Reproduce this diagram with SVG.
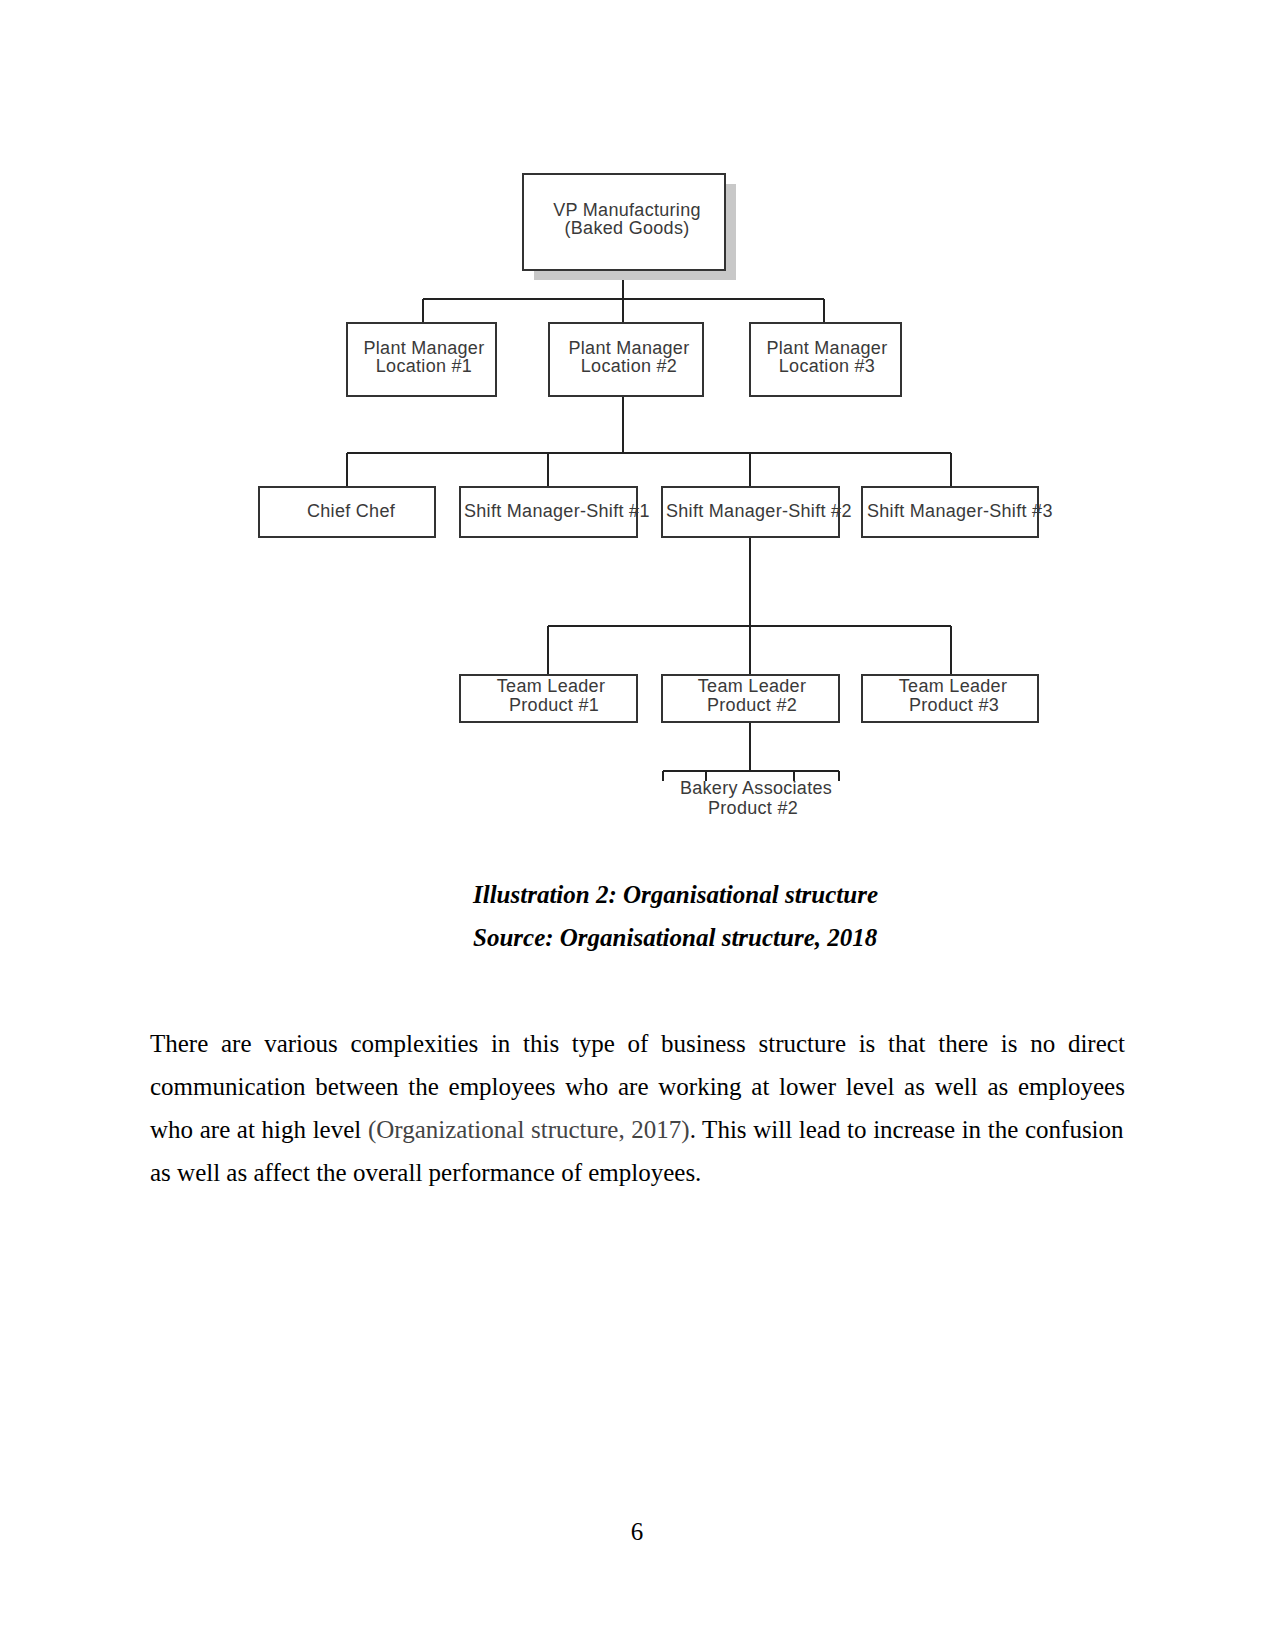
<svg xmlns="http://www.w3.org/2000/svg" width="1275" height="1651" viewBox="0 0 1275 1651">
<style>
.box{fill:#fff;stroke:#333;stroke-width:2}
.shadow{fill:#c8c8c8}
.t{font-family:"Liberation Sans",Arial,sans-serif;font-size:18px;letter-spacing:0.3px;fill:#3a3a3a;text-anchor:middle}
.tl{font-family:"Liberation Sans",Arial,sans-serif;font-size:18px;letter-spacing:0.3px;fill:#3a3a3a}
.conn{fill:none;stroke:#222;stroke-width:2}
.cap{font-family:"Liberation Serif","Times New Roman",serif;font-size:25px;font-weight:bold;font-style:italic;fill:#000}
.body{font-family:"Liberation Serif","Times New Roman",serif;font-size:25px;fill:#000}
</style>
<rect width="1275" height="1651" fill="#fff"/>
<g id="connectors">
<path class="conn" d="M623 270V299M423 299H824M423 299V323M824 299V323M623 299V323"/>
<path class="conn" d="M623 396V453M347 453H951M347 453V487M548 453V487M750 453V487M951 453V487"/>
<path class="conn" d="M750 537V626M548 626H951M548 626V675M750 626V675M951 626V675"/>
<path class="conn" d="M750 722V771M663 771H839M663 771V781M706 771V781M794 771V781M839 771V781"/>
</g>
<g id="vp">
<rect class="shadow" x="534" y="184" width="202" height="96"/>
<rect class="box" x="523" y="174" width="202" height="96"/>
<text class="t" x="627" y="216">VP Manufacturing</text>
<text class="t" x="627" y="234">(Baked Goods)</text>
</g>
<g id="pm1">
<rect class="box" x="347" y="323" width="149" height="73"/>
<text class="t" x="424" y="354">Plant Manager</text>
<text class="t" x="424" y="372">Location #1</text>
</g>
<g id="pm2">
<rect class="box" x="549" y="323" width="154" height="73"/>
<text class="t" x="629" y="354">Plant Manager</text>
<text class="t" x="629" y="372">Location #2</text>
</g>
<g id="pm3">
<rect class="box" x="750" y="323" width="151" height="73"/>
<text class="t" x="827" y="354">Plant Manager</text>
<text class="t" x="827" y="372">Location #3</text>
</g>
<g id="chief">
<rect class="box" x="259" y="487" width="176" height="50"/>
<text class="t" x="351" y="517">Chief Chef</text>
</g>
<g id="sm1">
<rect class="box" x="460" y="487" width="177" height="50"/>
<text class="tl" x="464" y="517">Shift Manager-Shift #1</text>
</g>
<g id="sm2">
<rect class="box" x="662" y="487" width="177" height="50"/>
<text class="tl" x="666" y="517">Shift Manager-Shift #2</text>
</g>
<g id="sm3">
<rect class="box" x="862" y="487" width="176" height="50"/>
<text class="tl" x="867" y="517">Shift Manager-Shift #3</text>
</g>
<g id="tl1">
<rect class="box" x="460" y="675" width="177" height="47"/>
<text class="t" x="551" y="692">Team Leader</text>
<text class="t" x="554" y="711">Product #1</text>
</g>
<g id="tl2">
<rect class="box" x="662" y="675" width="177" height="47"/>
<text class="t" x="752" y="692">Team Leader</text>
<text class="t" x="752" y="711">Product #2</text>
</g>
<g id="tl3">
<rect class="box" x="862" y="675" width="176" height="47"/>
<text class="t" x="953" y="692">Team Leader</text>
<text class="t" x="954" y="711">Product #3</text>
</g>
<g id="bakery">
<text class="t" x="756" y="794">Bakery Associates</text>
<text class="t" x="753" y="814">Product #2</text>
</g>
<text class="cap" x="473" y="903">Illustration 2: Organisational structure</text>
<text class="cap" x="473" y="946">Source: Organisational structure, 2018</text>
<text class="body" x="150" y="1052" word-spacing="6.44">There are various complexities in this type of business structure is that there is no direct</text>
<text class="body" x="150" y="1095" word-spacing="3.49">communication between the employees who are working at lower level as well as employees</text>
<text class="body" x="150" y="1138" word-spacing="0.4">who are at high level <tspan fill="#444">(Organizational structure, 2017)</tspan>. This will lead to increase in the confusion</text>
<text class="body" x="150" y="1181">as well as affect the overall performance of employees.</text>
<text class="body" x="637" y="1540" text-anchor="middle">6</text>
</svg>
